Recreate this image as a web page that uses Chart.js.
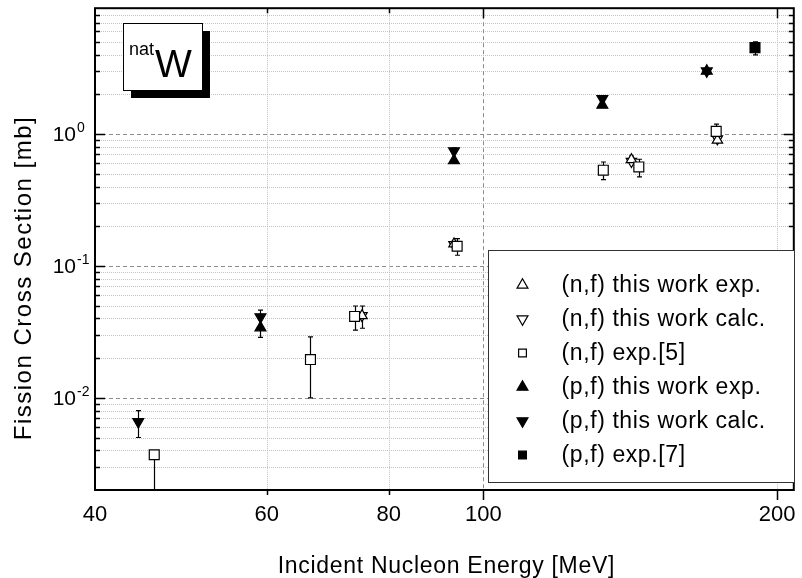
<!DOCTYPE html>
<html>
<head>
<meta charset="utf-8">
<script src="https://cdn.jsdelivr.net/npm/chart.js@4.4.0/dist/chart.umd.min.js"></script>
<style>
html,body{margin:0;padding:0;background:#fff;}
canvas{display:block;}
</style>
</head>
<body>
<canvas id="fissionChart" width="802" height="578"></canvas>
<script>
// axis ticks
const xTicks = [40, 60, 80, 100, 200];
const yDecades = [0.01, 0.1, 1];
const yExponents = ['-2', '-1', '0'];

// (n,f) this work exp.
const nfExpE = [75.1, 93.3, 141.8, 173.7];
const nfExpS = [0.042, 0.147, 0.64, 0.90];
const nfExpLo = [0.0337, null, null, null];
const nfExpHi = [0.0497, null, 0.68, null];

// (n,f) this work calc.
const nfCalcE = [75.1, 93.3, 141.8, 173.7];
const nfCalcS = [0.042, 0.145, 0.62, 0.92];

// (n,f) exp.[5]
const nfRefE = [46.0, 66.5, 73.8, 94.0, 132.7, 144.3, 173.2];
const nfRefS = [0.0037, 0.0195, 0.0414, 0.141, 0.532, 0.563, 1.048];
const nfRefLo = [0.0015, 0.0100, 0.0326, 0.1205, 0.452, 0.473, 0.95];
const nfRefHi = [0.0037, 0.029, 0.0497, 0.161, 0.614, 0.644, 1.19];

// (p,f) this work exp.
const pfExpE = [59.1, 93.3, 132.4, 169.4];
const pfExpS = [0.0340, 0.629, 1.657, 3.0];
const pfExpLo = [0.0287, 0.604, 1.60, 2.85];
const pfExpHi = [0.0463, 0.784, 1.95, 3.15];

// (p,f) this work calc.
const pfCalcE = [44.3, 59.1, 93.3, 132.4, 169.4];
const pfCalcS = [0.00659, 0.0410, 0.745, 1.852, 3.0];
const pfCalcLo = [0.0050, null, null, null, null];
const pfCalcHi = [0.0080, null, null, null, null];

// (p,f) exp.[7]
const pfRefE = [189.8];
const pfRefS = [4.52];
const pfRefLo = [3.98];
const pfRefHi = [5.0];

const FONT = 'Arial, "Liberation Sans", Helvetica, sans-serif';

function pts(xs, ys) {
  return xs.map((x, i) => ({x: x, y: ys[i]}));
}

const datasets = [
  {label: '(n,f) this work exp.', data: pts(nfExpE, nfExpS), pointStyle: 'triangle', pointRotation: 0,
   pointRadius: 6, pointBackgroundColor: '#fff', errLo: nfExpLo, errHi: nfExpHi, order: 2},
  {label: '(n,f) this work calc.', data: pts(nfCalcE, nfCalcS), pointStyle: 'triangle', pointRotation: 180,
   pointRadius: 6, pointBackgroundColor: '#fff', order: 2},
  {label: '(n,f) exp.[5]', data: pts(nfRefE, nfRefS), pointStyle: 'rect', pointRotation: 0,
   pointRadius: 7, pointBackgroundColor: '#fff', errLo: nfRefLo, errHi: nfRefHi, order: 1},
  {label: '(p,f) this work exp.', data: pts(pfExpE, pfExpS), pointStyle: 'triangle', pointRotation: 0,
   pointRadius: 6.3, pointBackgroundColor: '#000', errLo: pfExpLo, errHi: pfExpHi, order: 0},
  {label: '(p,f) this work calc.', data: pts(pfCalcE, pfCalcS), pointStyle: 'triangle', pointRotation: 180,
   pointRadius: 6.3, pointBackgroundColor: '#000', errLo: pfCalcLo, errHi: pfCalcHi, order: 0},
  {label: '(p,f) exp.[7]', data: pts(pfRefE, pfRefS), pointStyle: 'rect', pointRotation: 0,
   pointRadius: 7, pointBackgroundColor: '#000', errLo: pfRefLo, errHi: pfRefHi, order: 0}
];
datasets.forEach(d => {
  d.showLine = false;
  d.pointBorderColor = '#000';
  d.pointBorderWidth = 1.2;
  d.pointHoverRadius = d.pointRadius;
});

function isDecade(v) {
  const l = Math.log10(v);
  return Math.abs(l - Math.round(l)) < 1e-9;
}

// small symbol for the legend box
function symbol(ctx, style, rot, r, fill, x, y) {
  ctx.save();
  ctx.fillStyle = fill;
  ctx.strokeStyle = '#000';
  ctx.lineWidth = 1.2;
  ctx.setLineDash([]);
  ctx.beginPath();
  if (style === 'rect') {
    const s = r * Math.SQRT1_2;
    ctx.rect(x - s, y - s, 2 * s, 2 * s);
  } else {
    let a = rot * Math.PI / 180;
    for (let k = 0; k < 3; k++) {
      const px = x + Math.sin(a) * r, py = y - Math.cos(a) * r;
      if (k === 0) ctx.moveTo(px, py); else ctx.lineTo(px, py);
      a += 2 * Math.PI / 3;
    }
    ctx.closePath();
  }
  ctx.fill();
  ctx.stroke();
  ctx.restore();
}

function spacedText(ctx, text, x, y, spacing) {
  if ('letterSpacing' in ctx) ctx.letterSpacing = spacing + 'px';
  ctx.fillText(text, x, y);
  if ('letterSpacing' in ctx) ctx.letterSpacing = '0px';
}

const framePlugin = {
  id: 'frame',
  beforeDatasetsDraw(chart) {
    const {ctx, chartArea: a, scales: {x: xs, y: ys}} = chart;
    ctx.save();
    ctx.beginPath();
    ctx.rect(a.left, a.top, a.right - a.left, a.bottom - a.top);
    ctx.clip();
    ctx.lineWidth = 1;
    // horizontal grid
    for (let d = 0.001; d < 20; d *= 10) {
      for (let m = 1; m < 10; m++) {
        const v = d * m;
        if (v <= ys.min || v >= ys.max) continue;
        const y = Math.round(ys.getPixelForValue(v)) + 0.5;
        const major = m === 1;
        ctx.setLineDash(major ? [4, 3] : [1, 1]);
        ctx.strokeStyle = major ? '#8c8c8c' : '#c4c4c4';
        ctx.beginPath();
        ctx.moveTo(a.left, y);
        ctx.lineTo(a.right, y);
        ctx.stroke();
      }
    }
    // vertical grid
    xTicks.forEach(v => {
      if (v <= xs.min) return;
      const x = Math.round(xs.getPixelForValue(v)) + 0.5;
      const major = isDecade(v);
      ctx.setLineDash(major ? [4, 3] : [1, 1]);
      ctx.strokeStyle = major ? '#8c8c8c' : '#c4c4c4';
      ctx.beginPath();
      ctx.moveTo(x, a.top);
      ctx.lineTo(x, a.bottom);
      ctx.stroke();
    });
    // error bars
    ctx.setLineDash([]);
    ctx.strokeStyle = '#000';
    ctx.lineWidth = 1.2;
    chart.data.datasets.forEach((ds, i) => {
      if (!ds.errLo) return;
      const meta = chart.getDatasetMeta(i);
      meta.data.forEach((p, j) => {
        const lo = ds.errLo[j], hi = ds.errHi[j];
        if (lo == null && hi == null) return;
        const x = Math.round(p.x) + 0.5;
        const y1 = ys.getPixelForValue(hi == null ? ds.data[j].y : hi);
        const y2 = ys.getPixelForValue(lo == null ? ds.data[j].y : lo);
        ctx.beginPath();
        ctx.moveTo(x, y1);
        ctx.lineTo(x, y2);
        if (hi != null && hi !== ds.data[j].y) { ctx.moveTo(x - 2.5, y1); ctx.lineTo(x + 2.5, y1); }
        if (lo != null) { ctx.moveTo(x - 2.5, y2); ctx.lineTo(x + 2.5, y2); }
        ctx.stroke();
      });
    });
    ctx.restore();
  },
  afterDatasetsDraw(chart) {
    const {ctx, chartArea: a, scales: {x: xs, y: ys}, data} = chart;
    ctx.save();
    ctx.setLineDash([]);
    ctx.strokeStyle = '#000';

    // tick marks
    ctx.lineWidth = 1.5;
    ctx.beginPath();
    for (let d = 0.001; d < 20; d *= 10) {
      for (let m = 1; m < 10; m++) {
        const v = d * m;
        if (v <= ys.min || v >= ys.max) continue;
        const y = Math.round(ys.getPixelForValue(v)) + 0.5;
        const len = m === 1 ? 10 : 5;
        ctx.moveTo(a.left, y); ctx.lineTo(a.left + len, y);
        ctx.moveTo(a.right, y); ctx.lineTo(a.right - len, y);
      }
    }
    xTicks.forEach(v => {
      if (v <= xs.min) return;
      const x = Math.round(xs.getPixelForValue(v)) + 0.5;
      const len = v >= 100 ? 10 : 5;
      ctx.moveTo(x, a.top); ctx.lineTo(x, a.top + len);
      ctx.moveTo(x, a.bottom); ctx.lineTo(x, a.bottom + len);
    });
    ctx.stroke();

    // axis frame
    ctx.lineWidth = 2;
    ctx.strokeRect(a.left, a.top, a.right - a.left, a.bottom - a.top);

    // y tick labels 10^n
    ctx.fillStyle = '#000';
    yDecades.forEach((v, i) => {
      const y = ys.getPixelForValue(v);
      ctx.font = '21px ' + FONT;
      ctx.textAlign = 'right';
      ctx.textBaseline = 'alphabetic';
      ctx.fillText('10', 76, y + 7);
      ctx.font = '14px ' + FONT;
      ctx.textAlign = 'left';
      ctx.fillText(yExponents[i], 77, y - 2);
    });

    // axis titles
    ctx.font = '23px ' + FONT;
    ctx.textAlign = 'center';
    ctx.textBaseline = 'alphabetic';
    spacedText(ctx, 'Incident Nucleon Energy [MeV]', (a.left + a.right) / 2 + 2, 573, 0.7);
    ctx.save();
    ctx.translate(31, 278);
    ctx.rotate(-Math.PI / 2);
    ctx.font = '24px ' + FONT;
    spacedText(ctx, 'Fission Cross Section [mb]', 0, 0, 1.5);
    ctx.restore();

    // natW label box with shadow
    ctx.fillStyle = '#000';
    ctx.fillRect(131, 31, 79, 67);
    ctx.fillStyle = '#fff';
    ctx.fillRect(123.5, 23.5, 79, 67);
    ctx.lineWidth = 1;
    ctx.strokeRect(123.5, 23.5, 79, 67);
    ctx.fillStyle = '#000';
    ctx.textAlign = 'left';
    ctx.font = '18px ' + FONT;
    ctx.fillText('nat', 129, 55);
    ctx.font = '39px ' + FONT;
    ctx.fillText('W', 155, 77);

    // legend box
    ctx.fillStyle = '#fff';
    ctx.fillRect(488.5, 250.5, 306, 232);
    ctx.strokeStyle = '#333';
    ctx.lineWidth = 1;
    ctx.strokeRect(488.5, 250.5, 306, 232);
    data.datasets.forEach((ds, i) => {
      const y = 285 + i * 34;
      const r = ds.pointStyle === 'rect' ? 5.5 : 6.3;
      symbol(ctx, ds.pointStyle, ds.pointRotation, r, ds.pointBackgroundColor, 522.5, y);
      ctx.fillStyle = '#000';
      ctx.font = '23px ' + FONT;
      ctx.textAlign = 'left';
      ctx.textBaseline = 'middle';
      spacedText(ctx, ds.label, 561.5, y + 1, 0.6);
    });
    ctx.restore();
  }
};

new Chart(document.getElementById('fissionChart'), {
  type: 'scatter',
  data: {datasets: datasets},
  options: {
    responsive: false,
    animation: false,
    layout: {padding: {top: 6, right: 5, left: 0, bottom: 0}},
    plugins: {legend: {display: false}, tooltip: {enabled: false}},
    scales: {
      x: {
        type: 'logarithmic',
        min: 40,
        max: 208,
        position: 'bottom',
        afterBuildTicks: s => { s.ticks = xTicks.map(v => ({value: v})); },
        afterFit: s => { s.height = 88; },
        grid: {display: false, drawTicks: false},
        border: {display: false},
        ticks: {
          autoSkip: false,
          maxRotation: 0,
          padding: 0,
          color: '#000',
          font: {size: 22, family: FONT, lineHeight: 2.3},
          callback: v => String(v)
        }
      },
      y: {
        type: 'logarithmic',
        min: 0.002,
        max: 9,
        afterFit: s => { s.width = 95; },
        grid: {display: false, drawTicks: false},
        border: {display: false},
        ticks: {display: false}
      }
    }
  },
  plugins: [framePlugin]
});
</script>
</body>
</html>
